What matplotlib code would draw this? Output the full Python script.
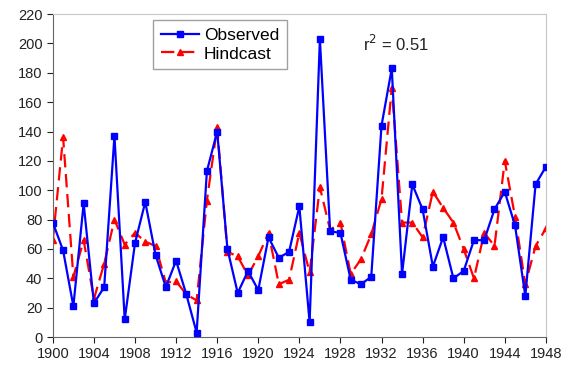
import matplotlib
matplotlib.use("Agg")
import matplotlib.pyplot as plt

plt.rcParams['font.family'] = ['Liberation Sans', 'DejaVu Sans']

years = list(range(1900, 1949))
observed = [78, 59, 21, 91, 23, 34, 137, 12, 64, 92,
            56, 34, 52, 29, 3, 113, 140, 60, 30, 45,
            32, 68, 54, 58, 89, 10, 203, 72, 71, 39,
            36, 41, 144, 183, 43, 104, 87, 48, 68, 40,
            45, 66, 66, 87, 99, 76, 28, 104, 116]
hindcast = [66, 136, 41, 66, 26, 50, 80, 63, 71, 65,
            62, 37, 38, 29, 25, 93, 143, 58, 55, 42,
            55, 71, 36, 39, 71, 44, 102, 73, 78, 43,
            53, 70, 94, 170, 78, 78, 68, 99, 88, 78,
            60, 40, 71, 62, 120, 82, 36, 62, 74]
xticks = list(range(1900, 1949, 4))
yticks = list(range(0, 221, 20))

fig = plt.figure(figsize=(5.68, 3.72), dpi=100)
ax = fig.add_axes([0.093, 0.094, 0.868, 0.868])

ax.plot(years, observed, color="#0000ff", marker="s", markersize=4,
        linewidth=1.6, label="Observed", zorder=3)
ax.plot(years, hindcast, color="#ff0000", marker="^", markersize=4,
        linewidth=1.6, dashes=(6, 3), label="Hindcast", zorder=2)

ax.set_xlim(1900, 1948)
ax.set_ylim(0, 220)
ax.set_xticks(xticks)
ax.set_yticks(yticks)
ax.tick_params(direction="out", length=4, labelsize=10.5, colors="#222222")

for s in ["top", "right"]:
    ax.spines[s].set_color("#c8c8c8")
for s in ["left", "bottom"]:
    ax.spines[s].set_color("#666666")

ax.legend(loc="upper left", bbox_to_anchor=(0.203, 0.982), borderaxespad=0,
          fontsize=12.5, frameon=True, fancybox=False, edgecolor="#888888",
          handlelength=2.2, handletextpad=0.3, borderpad=0.45,
          labelspacing=0.2)
ax.text(0.63, 0.885, "r$^2$ = 0.51", transform=ax.transAxes, fontsize=12,
        color="#222222")

fig.savefig("out.png", dpi=100)
